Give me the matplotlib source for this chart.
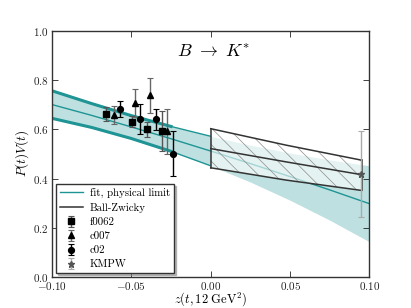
import matplotlib
matplotlib.use("Agg")
import matplotlib.pyplot as plt
from matplotlib.ticker import FixedLocator

plt.rcParams['font.family'] = 'serif'
plt.rcParams['font.serif'] = ['cmr10', 'DejaVu Serif']
plt.rcParams['mathtext.fontset'] = 'cm'
plt.rcParams['axes.formatter.use_mathtext'] = True
plt.rcParams['hatch.linewidth'] = 0.5
plt.rcParams['hatch.color'] = '#8c8c8c'

# fit band (physical limit)
band_z = [-0.1, -0.075, -0.05, -0.025, 0.0, 0.025, 0.05, 0.075, 0.1]
band_upper = [0.757, 0.705, 0.656, 0.612, 0.572, 0.536, 0.504, 0.476, 0.452]
band_center = [0.701, 0.657, 0.610, 0.562, 0.512, 0.461, 0.408, 0.354, 0.298]
band_lower = [0.645, 0.608, 0.563, 0.511, 0.452, 0.386, 0.312, 0.231, 0.143]

# Ball-Zwicky
bz_z = [0.0, 0.0475, 0.095]
bz_upper = [0.603, 0.536, 0.475]
bz_center = [0.522, 0.468, 0.416]
bz_lower = [0.444, 0.394, 0.352]

# lattice data
f0062_z = [-0.0658, -0.0496, -0.0402, -0.0307]
f0062_y = [0.664, 0.632, 0.601, 0.593]
f0062_err = [0.028, 0.024, 0.031, 0.080]

c007_z = [-0.0612, -0.0480, -0.0380, -0.0276]
c007_y = [0.660, 0.708, 0.739, 0.593]
c007_err = [0.036, 0.058, 0.072, 0.092]

c02_z = [-0.0574, -0.0444, -0.0343, -0.0236]
c02_y = [0.683, 0.643, 0.641, 0.502]
c02_err = [0.033, 0.061, 0.043, 0.090]

kmpw_z = [0.0945]
kmpw_y = [0.417]
kmpw_err = [0.175]

xticks = [-0.10, -0.05, 0.00, 0.05, 0.10]
yticks = [0.0, 0.2, 0.4, 0.6, 0.8, 1.0]

teal = '#1e9494'
fillc = '#bfe0e0'

fig = plt.figure(figsize=(4.11, 3.08), dpi=100)
ax = fig.add_axes([0.1265, 0.1006, 0.7725, 0.7987])

ax.fill_between(band_z, band_lower, band_upper, color=fillc, lw=0, zorder=1)
ax.plot(band_z, band_center, color=teal, lw=1.0, zorder=2, label='fit, physical limit')
nthick = 4
ax.plot(band_z[:nthick], band_upper[:nthick], color=teal, lw=2.2, zorder=2)
ax.plot(band_z[:nthick], band_lower[:nthick], color=teal, lw=2.2, zorder=2)
ax.plot(band_z[nthick-1:5], band_upper[nthick-1:5], color=teal, lw=1.0, zorder=2)
ax.plot(band_z[nthick-1:5], band_lower[nthick-1:5], color=teal, lw=1.0, zorder=2)

# Ball-Zwicky box
ax.fill_between(bz_z, bz_lower, bz_upper, facecolor=(1, 1, 1, 0.6), edgecolor='#8c8c8c',
                hatch='\\\\', lw=0, zorder=3)
bzc = '#333333'
ax.plot(bz_z, bz_upper, color=bzc, lw=1.1, zorder=4)
ax.plot(bz_z, bz_lower, color=bzc, lw=1.1, zorder=4)
ax.plot(bz_z, bz_center, color=bzc, lw=1.1, zorder=4, label='Ball-Zwicky')
ax.plot([bz_z[0], bz_z[0]], [bz_lower[0], bz_upper[0]], color=bzc, lw=1.1, zorder=4)
ax.plot([bz_z[-1], bz_z[-1]], [bz_lower[-1], bz_upper[-1]], color=bzc, lw=1.1, zorder=4)

ax.errorbar(f0062_z, f0062_y, yerr=f0062_err, fmt='s', color='black', ecolor='#555555',
            ms=4.2, capsize=2.2, elinewidth=1.0, capthick=0.8, zorder=5, label='f0062')
ax.errorbar(c007_z, c007_y, yerr=c007_err, fmt='^', color='black', ecolor='#666666',
            ms=4.2, capsize=2.2, elinewidth=1.0, capthick=0.8, zorder=5, label='c007')
ax.errorbar(c02_z, c02_y, yerr=c02_err, fmt='o', color='black', ecolor='black',
            ms=4.2, capsize=2.2, elinewidth=1.0, capthick=0.8, zorder=5, label='c02')
ax.errorbar(kmpw_z, kmpw_y, yerr=kmpw_err, fmt='*', color='#555555', ecolor='#aaaaaa',
            ms=5, capsize=2.2, elinewidth=1.0, capthick=0.8, zorder=5, label='KMPW')

ax.set_xlim(-0.1, 0.1)
ax.set_ylim(0.0, 1.0)
ax.xaxis.set_major_locator(FixedLocator(xticks))
ax.yaxis.set_major_locator(FixedLocator(yticks))
ax.tick_params(direction='in', top=True, right=True, length=4, width=0.6,
               labelsize=8, colors='#222222', pad=2.5)
ax.tick_params(axis='x', pad=1.8)
for s in ax.spines.values():
    s.set_color('#333333')
    s.set_linewidth(1.0)

ax.set_xlabel(r'$z(t,12\ \mathrm{GeV}^2)$', fontsize=9.0, labelpad=-0.8)
ax.set_ylabel(r'$P(t)V(t)$', fontsize=9.5, labelpad=1.0)
ax.text(0.51, 0.915, r'$B\ \to\ K^{*}$', transform=ax.transAxes, fontsize=13,
        ha='center', va='center')

leg = ax.legend(loc='lower left', fontsize=7.8, frameon=True,
                shadow={'ox': 1.5, 'oy': -1.5, 'shade': 0.5}, fancybox=False,
                borderaxespad=0.35, handlelength=2.2, labelspacing=0.42, borderpad=0.35,
                handletextpad=0.6, numpoints=1)
leg.get_frame().set_edgecolor('#333333')
leg.get_frame().set_linewidth(1.0)

fig.savefig('out.png', dpi=100)
